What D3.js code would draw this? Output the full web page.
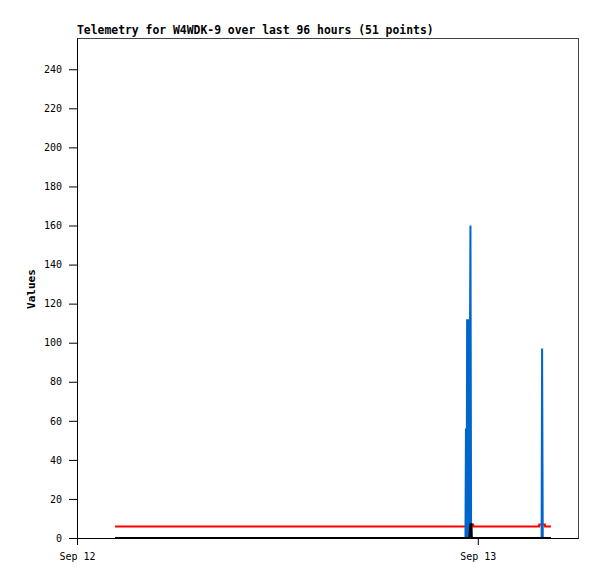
<!DOCTYPE html>
<html>
<head>
<meta charset="utf-8">
<script src="https://cdn.jsdelivr.net/npm/d3@7"></script>
<style>
  body { margin: 0; background: #fff; }
  text { font-family: "DejaVu Sans Mono", monospace; }
</style>
</head>
<body>
<div id="chart"></div>
<script>

// hours after Sep 12 00:00, value
var blueSeries = [[2.28, 0], [23.26, 0], [23.29, 56], [23.33, 0], [23.36, 112], [23.40, 0],
                  [23.44, 112], [23.48, 0], [23.56, 160], [23.60, 0], [27.82, 0], [27.85, 97],
                  [27.89, 0], [28.38, 0]];
var redSeries = [[2.28, 5.9], [23.58, 5.9], [23.59, 6.9], [23.72, 6.9], [23.73, 5.9], [27.67, 5.9],
                 [27.68, 6.9], [28.02, 6.9], [28.03, 5.9], [28.38, 5.9]];
var blackSeries = [[2.28, 0], [23.50, 0], [23.52, 3], [23.56, 7], [23.62, 7], [23.64, 0], [28.38, 0]];

var yTicks = [0, 20, 40, 60, 80, 100, 120, 140, 160, 180, 200, 220, 240];
var xTickDays = [12, 13];
var title = "Telemetry for W4WDK-9 over last 96 hours (51 points)";

var day0 = Date.UTC(2023, 8, 12);
function toDate(h) { return new Date(day0 + h * 3600 * 1000); }

var margin = {top: 38, right: 19, bottom: 41, left: 77},
    width = 597 - margin.left - margin.right,
    height = 579 - margin.top - margin.bottom;

var svg = d3.select("#chart").append("svg")
    .attr("width", 597)
    .attr("height", 579);

var g = svg.append("g")
    .attr("transform", "translate(" + margin.left + "," + margin.top + ")");

var xScale = d3.scaleUtc()
    .domain([toDate(0), toDate(30)])
    .range([0, width]);

var yScale = d3.scaleLinear()
    .domain([0, 256])
    .range([height, 0]);

// frame
g.append("rect")
    .attr("x", 0.5).attr("y", 0.5)
    .attr("width", width).attr("height", height)
    .style("fill", "none")
    .style("stroke", "#444");

var line = d3.line()
    .x(function(d) { return xScale(toDate(d[0])); })
    .y(function(d) { return yScale(d[1]); })
    .curve(d3.curveLinear);

var series = [[redSeries, "#ff0000"], [blueSeries, "#0066cc"], [blackSeries, "#000000"]];
series.forEach(function(s) {
    g.append("path")
        .datum(s[0])
        .attr("d", line)
        .style("stroke", s[1])
        .style("stroke-width", 2)
        .style("fill", "none");
});

var y_axis = d3.axisLeft(yScale).tickValues(yTicks).tickSize(8).tickSizeOuter(0).tickPadding(7);
var x_axis = d3.axisBottom(xScale)
    .tickValues(xTickDays.map(function(d) { return new Date(Date.UTC(2023, 8, d)); }))
    .tickFormat(d3.utcFormat("%b %d"))
    .tickSize(7).tickSizeOuter(0).tickPadding(8);

var ya = g.append("g").call(y_axis);
var xa = g.append("g").attr("transform", "translate(0," + height + ")").call(x_axis);

[ya, xa].forEach(function(a) {
    a.selectAll("text").style("font-family", "'DejaVu Sans Mono', monospace")
        .style("font-size", "10px").style("fill", "#000");
    a.selectAll("line").style("stroke", "#000");
    a.select(".domain").style("stroke", "#000");
});

svg.append("text")
    .attr("x", 77).attr("y", 34)
    .style("font-size", "11.4px")
    .style("font-weight", "bold")
    .text(title);

svg.append("text")
    .attr("transform", "translate(35,289) rotate(-90)")
    .attr("text-anchor", "middle")
    .style("font-size", "11px")
    .style("font-weight", "bold")
    .text("Values");

</script>
</body>
</html>
